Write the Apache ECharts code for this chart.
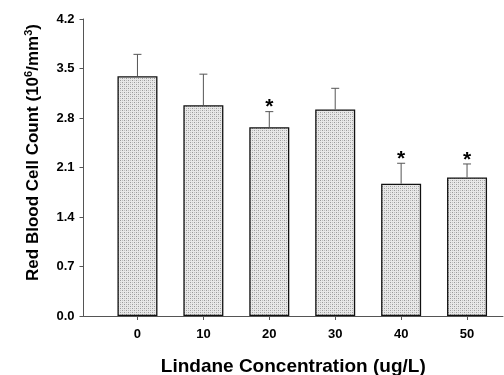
<!DOCTYPE html>
<html>
<head>
<meta charset="utf-8">
<script src="https://cdn.jsdelivr.net/npm/echarts@6/dist/echarts.min.js"></script>
<style>
  html, body { margin: 0; padding: 0; background: #fff; }
  #chart { width: 504px; height: 375px; }
</style>
</head>
<body>
<div id="chart"></div>
<script>
// lindane concentration groups and red blood cell counts (10^6/mm^3)
var categories = ['0', '10', '20', '30', '40', '50'];
var rbcMean = [3.39, 2.98, 2.67, 2.92, 1.87, 1.96];
var rbcSD = [0.31, 0.44, 0.22, 0.30, 0.29, 0.19];
var signif = ['', '', '*', '', '*', '*'];
var yMin = 0, yMax = 4.2, yStep = 0.7;

var FONT = '"Liberation Sans", Arial, sans-serif';

// stippled grey fill like the printed figure
function makeStipple() {
    var c = document.createElement('canvas');
    c.width = 4; c.height = 4;
    var ctx = c.getContext('2d');
    ctx.fillStyle = '#e8e8e8';
    ctx.fillRect(0, 0, 4, 4);
    ctx.fillStyle = '#9a9a9a';
    ctx.fillRect(0, 0, 1, 1);
    ctx.fillRect(2, 2, 1, 1);
    ctx.fillStyle = '#c0c0c0';
    ctx.fillRect(2, 0, 1, 1);
    ctx.fillRect(0, 2, 1, 1);
    return c;
}

var chart = echarts.init(document.getElementById('chart'));

var errData = categories.map(function (c, i) {
    return [i, rbcMean[i], rbcMean[i] + rbcSD[i]];
});

var option = {
    animation: false,
    backgroundColor: '#fff',
    textStyle: { fontFamily: FONT },
    grid: [
        { left: 83.5, right: 1, top: 19, bottom: 59, outerBoundsMode: 'none', containLabel: false },
        { left: 104.5, right: 4, top: 19, bottom: 59, outerBoundsMode: 'none', containLabel: false }
    ],
    xAxis: [
        {
            gridIndex: 0,
            type: 'value',
            min: 0,
            max: 1,
            axisLine: { show: true, lineStyle: { color: '#555', width: 1 } },
            axisTick: { show: false },
            axisLabel: { show: false },
            splitLine: { show: false },
            name: 'Lindane Concentration (ug/L)',
            nameLocation: 'middle',
            nameGap: 41,
            nameTextStyle: { fontFamily: FONT, fontWeight: 'bold', fontSize: 19, color: '#000' }
        },
        {
            gridIndex: 1,
            type: 'category',
            data: categories,
            axisLine: { show: false },
            axisTick: { show: true, alignWithLabel: true, length: 4, lineStyle: { color: '#555' } },
            axisLabel: { fontFamily: FONT, fontWeight: 'bold', fontSize: 13, color: '#000', margin: 12 },
            splitLine: { show: false }
        }
    ],
    yAxis: [
        {
            gridIndex: 0,
            type: 'value',
            min: yMin,
            max: yMax,
            interval: yStep,
            axisLine: { show: true, lineStyle: { color: '#555', width: 1 } },
            axisTick: { show: true, length: 4, lineStyle: { color: '#555' } },
            axisLabel: {
                fontFamily: FONT, fontWeight: 'bold', fontSize: 13, color: '#000', margin: 9,
                formatter: function (v) { return v.toFixed(1); }
            },
            splitLine: { show: false },
            name: '{t|Red Blood Cell Count (10}{s|6}{t|/mm}{s|3}{t|)}',
            nameLocation: 'middle',
            nameGap: 40,
            nameRotate: 90,
            nameTextStyle: {
                padding: [0, 0, 0, 30],
                rich: {
                    t: { fontFamily: FONT, fontWeight: 'bold', fontSize: 17, color: '#000', lineHeight: 20 },
                    s: { fontFamily: FONT, fontWeight: 'bold', fontSize: 11, color: '#000', lineHeight: 12, padding: [0, 0, 9, 0] }
                }
            }
        },
        {
            gridIndex: 1,
            type: 'value',
            min: yMin,
            max: yMax,
            interval: yStep,
            show: false
        }
    ],
    series: [
        {
            type: 'bar',
            xAxisIndex: 1,
            yAxisIndex: 1,
            data: rbcMean,
            barWidth: 40,
            itemStyle: {
                color: { image: makeStipple(), repeat: 'repeat' },
                borderColor: '#111',
                borderWidth: 1.3
            }
        },
        {
            type: 'custom',
            xAxisIndex: 1,
            yAxisIndex: 1,
            data: errData,
            z: 5,
            renderItem: function (params, api) {
                var i = api.value(0);
                var base = api.coord([i, api.value(1)]);
                var top = api.coord([i, api.value(2)]);
                var style = { stroke: '#555', lineWidth: 1 };
                var children = [
                    { type: 'line', shape: { x1: base[0], y1: base[1], x2: top[0], y2: top[1] }, style: style },
                    { type: 'line', shape: { x1: top[0] - 4, y1: top[1], x2: top[0] + 4, y2: top[1] }, style: style }
                ];
                if (signif[params.dataIndex]) {
                    children.push({
                        type: 'text',
                        style: {
                            text: signif[params.dataIndex],
                            x: top[0],
                            y: top[1] - 4,
                            align: 'center',
                            verticalAlign: 'middle',
                            font: 'bold 21px ' + FONT,
                            fill: '#000'
                        }
                    });
                }
                return { type: 'group', children: children };
            }
        }
    ]
};

chart.setOption(option);
</script>
</body>
</html>
